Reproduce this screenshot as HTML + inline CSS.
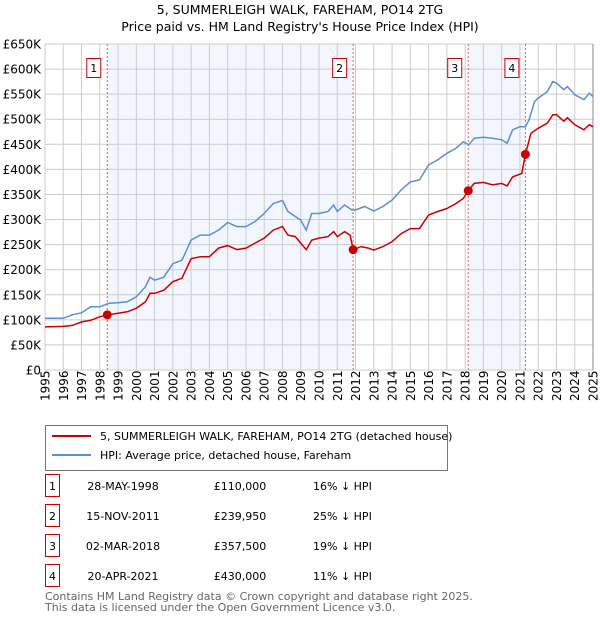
<!DOCTYPE html>
<html><head><meta charset="utf-8"><style>
body{margin:0;background:#fff;width:600px;height:620px;overflow:hidden;font-family:"DejaVu Sans","Liberation Sans",sans-serif}
svg text{font-family:"DejaVu Sans","Liberation Sans",sans-serif}
</style></head><body>
<svg id="c" width="600" height="620">
<text x="300" y="14" text-anchor="middle" font-size="12.5">5, SUMMERLEIGH WALK, FAREHAM, PO14 2TG</text>
<text x="300" y="31" text-anchor="middle" font-size="12.5">Price paid vs. HM Land Registry's House Price Index (HPI)</text>
<g id="plot"></g>
<g>
<rect x="45.5" y="425.5" width="402" height="45" fill="#fff" stroke="#777"/>
<line x1="52" y1="436" x2="91" y2="436" stroke="#cc0000" stroke-width="2"/>
<text x="100" y="440" font-size="11">5, SUMMERLEIGH WALK, FAREHAM, PO14 2TG (detached house)</text>
<line x1="52" y1="455" x2="91" y2="455" stroke="#5b8fd1" stroke-width="2"/>
<text x="100" y="459" font-size="11">HPI: Average price, detached house, Fareham</text>
</g>
<g id="table" font-size="11"></g>
<text x="45" y="600" font-size="11" fill="#666">Contains HM Land Registry data © Crown copyright and database right 2025.</text>
<text x="45" y="611" font-size="11" fill="#666">This data is licensed under the Open Government Licence v3.0.</text>
</svg>
<script>
const hpiYears=[1995,1996,1996.5,1997,1997.5,1998,1998.5,1999,1999.5,2000,2000.5,2000.75,2001,2001.5,2002,2002.5,2003,2003.5,2004,2004.5,2005,2005.5,2006,2006.5,2007,2007.5,2008,2008.3,2008.7,2009,2009.3,2009.6,2010,2010.5,2010.8,2011,2011.4,2011.8,2012,2012.5,2013,2013.5,2014,2014.5,2015,2015.5,2016,2016.5,2017,2017.5,2017.9,2018.2,2018.5,2019,2019.5,2020,2020.3,2020.6,2021,2021.3,2021.5,2021.8,2022,2022.5,2022.8,2023,2023.4,2023.6,2024,2024.5,2024.8,2025];
const hpiValues=[103,103,110,114,126,126,133,134,136,146,166,185,179,185,212,219,259,269,269,279,294,286,286,296,312,332,338,316,306,299,279,312,312,316,329,316,329,319,319,326,317,326,339,359,375,379,409,419,432,442,455,449,462,464,462,459,452,479,485,485,499,535,542,555,575,572,559,565,549,539,552,545];
const propYears=[1995,1996,1996.5,1997,1997.5,1998,1998.4,1999,1999.5,2000,2000.5,2000.75,2001,2001.5,2002,2002.5,2003,2003.5,2004,2004.5,2005,2005.5,2006,2006.5,2007,2007.5,2008,2008.3,2008.7,2009,2009.3,2009.6,2010,2010.5,2010.8,2011,2011.4,2011.7,2011.87,2012.3,2012.7,2013,2013.5,2014,2014.5,2015,2015.5,2016,2016.5,2017,2017.5,2017.9,2018.17,2018.5,2019,2019.5,2020,2020.3,2020.6,2021.1,2021.3,2021.6,2022,2022.5,2022.8,2023,2023.4,2023.6,2024,2024.5,2024.8,2025];
const propValues=[86,87,89,96,99,106,110,113,116,123,136,153,153,159,176,183,222,226,226,243,248,240,243,253,263,279,286,269,266,253,240,259,263,266,276,266,276,269,239.95,246,243,239,246,256,272,282,282,309,316,322,332,342,357.5,372,374,369,372,367,385,392,430,472,482,492,509,509,496,503,489,479,489,485];
const saleLabels=["1","2","3","4"];
const saleYears=[1998.41,2011.87,2018.17,2021.3];
const saleValues=[110,239.95,357.5,430];
const saleDates=["28-MAY-1998","15-NOV-2011","02-MAR-2018","20-APR-2021"];
const salePrices=["£110,000","£239,950","£357,500","£430,000"];
const saleDiffs=["16% ↓ HPI","25% ↓ HPI","19% ↓ HPI","11% ↓ HPI"];
const yTicks=[0,50,100,150,200,250,300,350,400,450,500,550,600,650];
const xTicks=[1995,1996,1997,1998,1999,2000,2001,2002,2003,2004,2005,2006,2007,2008,2009,2010,2011,2012,2013,2014,2015,2016,2017,2018,2019,2020,2021,2022,2023,2024,2025];
const X0=45,X1=593,Y0=370,Y1=44;
const xs=y=>X0+(y-1995)/30*(X1-X0);
const ys=v=>Y0-v/650*(Y0-Y1);
const NS="http://www.w3.org/2000/svg";
const plot=document.getElementById('plot');
function mk(tag,at,parent){const e=document.createElementNS(NS,tag);for(const k in at)e.setAttribute(k,at[k]);(parent||plot).appendChild(e);return e;}
for(const [a,b] of [[0,1],[2,3]]){
 const r=mk('rect',{x:xs(saleYears[a]),y:Y1,width:xs(saleYears[b])-xs(saleYears[a]),height:Y0-Y1,fill:'#f3f6fd'});
 
 
}
yTicks.forEach(t=>{
 const l=mk('line',{x1:X0,x2:X1,y1:ys(t),y2:ys(t),stroke:'#ccc'});
 
 
 const tx=mk('text',{x:41,y:ys(t)+4.5,'text-anchor':'end','font-size':'12'});
 tx.textContent=t===0?'£0':'£'+t+'K';
 
 
});
xTicks.forEach(t=>{
 const l=mk('line',{x1:xs(t),x2:xs(t),y1:Y1,y2:Y0,stroke:'#ccc'});
 
 
 const tx=mk('text',{x:0,y:0,'font-size':'12',transform:`translate(${xs(t)+4.5},401) rotate(-90)`});
 tx.textContent=t;
 
 
});
mk('line',{x1:X1,x2:X1,y1:Y1,y2:Y0,stroke:'#888'});
saleYears.forEach((y,i)=>{
 const l=mk('line',{x1:xs(y),x2:xs(y),y1:Y1,y2:Y0,stroke:'#e06060','stroke-dasharray':'2,2'});
 
 
 const b=mk('rect',{x:xs(y)-20.5,y:58.5,width:14,height:19,fill:'#fff',stroke:'#cc0000'});
 
 
 const t=mk('text',{x:xs(y)-13.5,y:72,'text-anchor':'middle','font-size':'11'});
 t.textContent=saleLabels[i];
 
 
});
const pts=(a,b)=>a.map((y,i)=>xs(y).toFixed(1)+','+ys(b[i]).toFixed(1)).join(' ');
const hl=mk('polyline',{points:pts(hpiYears,hpiValues),fill:'none',stroke:'#5b8fd1','stroke-width':1.5});


const pl=mk('polyline',{points:pts(propYears,propValues),fill:'none',stroke:'#cc0000','stroke-width':1.5});


saleYears.forEach((y,i)=>{
 const c=mk('circle',{cx:xs(y),cy:ys(saleValues[i]),r:4.5,fill:'#cc0000'});
 
 
});
const tb=document.getElementById('table');
const rowY=[487,517,547,577];
saleLabels.forEach((s,i)=>{
 const y=rowY[i];
 const b=mk('rect',{x:45.5,y:y-12.5,width:14,height:22,fill:'#fff',stroke:'#cc0000'},tb);
 
 
 const vals=[[s,52.5,'middle'],[saleDates[i],123,'middle'],[salePrices[i],240,'middle'],[saleDiffs[i],313,'start']];
 vals.forEach(([v,x,a],j)=>{
  const t=mk('text',{x:x,y:y+3,'text-anchor':a},tb);
  t.textContent=v;
  
  
 });
});
</script>
</body></html>
